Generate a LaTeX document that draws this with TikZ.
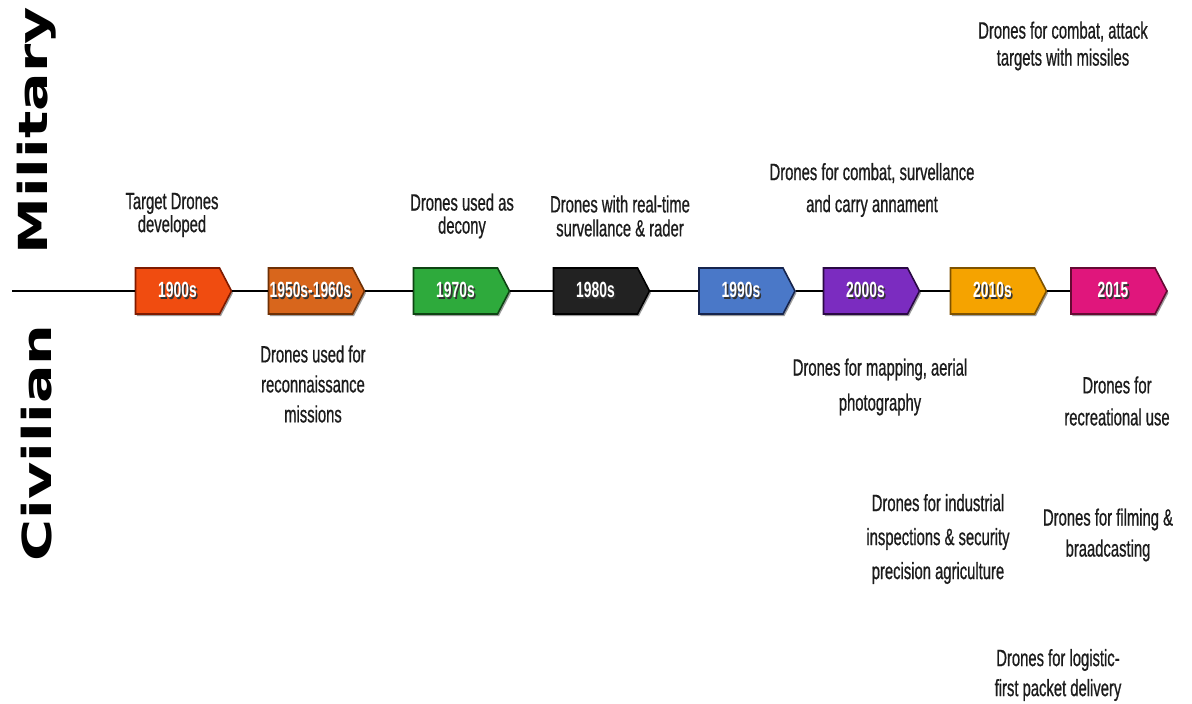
\documentclass[tikz,border=0pt]{standalone}
\usepackage{fontspec}
\setmainfont{Liberation Sans}
\newfontfamily\lblfont[FakeStretch=0.63,FakeBold=0.7]{Liberation Sans}
\newfontfamily\yearfont[FakeStretch=0.63]{Liberation Sans}
\newfontfamily\sidefont[FakeStretch=1.43]{DejaVu Sans}
\usetikzlibrary{shapes.symbols,shadows}
\newcommand\shtext[1]{\leavevmode\rlap{\kern1.6pt\raisebox{-1.6pt}{\color{black!80}#1}}#1}
\definecolor{cA}{HTML}{F04C10}\definecolor{dA}{HTML}{7E1A00}
\definecolor{cB}{HTML}{D8661C}\definecolor{dB}{HTML}{6E3005}
\definecolor{cC}{HTML}{2EAA3C}\definecolor{dC}{HTML}{0E4413}
\definecolor{cD}{HTML}{222222}\definecolor{dD}{HTML}{000000}
\definecolor{cE}{HTML}{4A78C8}\definecolor{dE}{HTML}{16244D}
\definecolor{cF}{HTML}{7B2CC0}\definecolor{dF}{HTML}{2A0944}
\definecolor{cG}{HTML}{F5A300}\definecolor{dG}{HTML}{7E5200}
\definecolor{cH}{HTML}{E0167C}\definecolor{dH}{HTML}{650A33}
\definecolor{txt}{HTML}{1C1C1C}
\tikzset{
  tagbox/.style={signal, signal to=east, signal pointer angle=125,
    minimum height=46, minimum width=96, inner sep=0pt, line width=1.6pt,
    fill=c#1, draw=d#1, text=white,
    font=\yearfont\bfseries\fontsize{22}{24}\selectfont,
    drop shadow={shadow xshift=1.5pt, shadow yshift=-2pt, fill=black!55, opacity=0.7}},
  lbl/.style={align=center, inner sep=0pt, text=txt,
    font=\lblfont\fontsize{23.5}{#1}\selectfont},
  side/.style={rotate=90, inner sep=0pt, text=black,
    font=\sidefont\bfseries\fontsize{40}{42}\selectfont},
  axis/.style={line width=1.8pt, draw=black}
}
\begin{document}
\begin{tikzpicture}[x=1pt,y=-1pt]
\useasboundingbox (0,0) rectangle (1192,704);
\fill[white] (0,0) rectangle (1192,704);
% side labels
\node[side] (mil) at (37,131) {Military};
\node[side] (civ) at (37,443) {Civilian};
% axis
\coordinate (start) at (12,291);
\node[tagbox=A] (b1) at (177.5,291) {\shtext{1900s}};
\node[tagbox=B] (b2) at (310.5,291) {\shtext{1950s-1960s}};
\node[tagbox=C] (b3) at (455.5,291) {\shtext{1970s}};
\node[tagbox=D] (b4) at (595.5,291) {\shtext{1980s}};
\node[tagbox=E] (b5) at (741,291) {\shtext{1990s}};
\node[tagbox=F] (b6) at (865.5,291) {\shtext{2000s}};
\node[tagbox=G] (b7) at (992.5,291) {\shtext{2010s}};
\node[tagbox=H] (b8) at (1113,291) {\shtext{2015}};
\draw[axis] (start) -- (b1.west);
\draw[axis] (b1.east) -- (b2.west);
\draw[axis] (b2.east) -- (b3.west);
\draw[axis] (b3.east) -- (b4.west);
\draw[axis] (b4.east) -- (b5.west);
\draw[axis] (b5.east) -- (b6.west);
\draw[axis] (b6.east) -- (b7.west);
\draw[axis] (b7.east) -- (b8.west);
% military labels
\node[lbl=23] (l1) at (172,215) {Target Drones\\developed};
\node[lbl=23] (l2) at (462,216) {Drones used as\\decony};
\node[lbl=24] (l3) at (620,216) {Drones with real-time\\survellance \& rader};
\node[lbl=32] (l4) at (872,190) {Drones for combat, survellance\\and carry annament};
\node[lbl=27] (l5) at (1063,46) {Drones for combat, attack\\targets with missiles};
% civilian labels
\node[lbl=30] (l6) at (313,384) {Drones used for\\reconnaissance\\missions};
\node[lbl=35] (l7) at (880,387) {Drones for mapping, aerial\\photography};
\node[lbl=32] (l8) at (1117,401) {Drones for\\recreational use};
\node[lbl=34] (l9) at (938,539) {Drones for industrial\\inspections \& security\\precision agriculture};
\node[lbl=31] (l10) at (1108,535) {Drones for filming \&\\braadcasting};
\node[lbl=30] (l11) at (1058,675) {Drones for logistic-\\first packet delivery};
\end{tikzpicture}
\end{document}
